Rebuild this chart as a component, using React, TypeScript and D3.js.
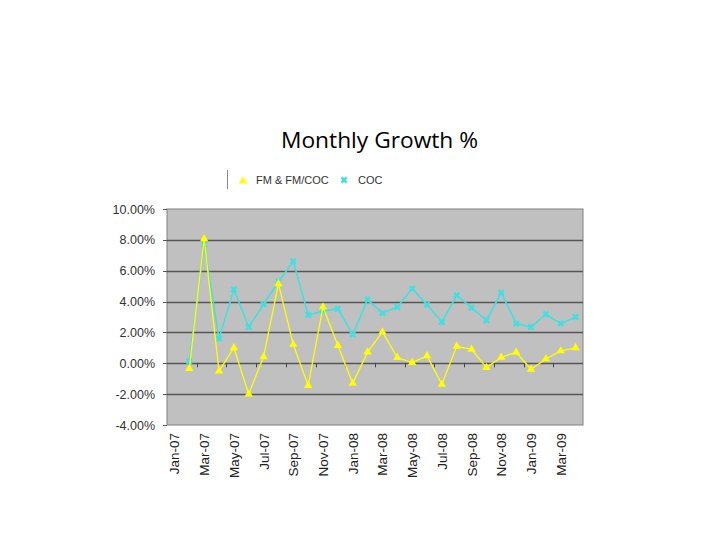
import React from "react";
import * as d3 from "d3";

const months = [
  "Jan-07","Feb-07","Mar-07","Apr-07","May-07","Jun-07","Jul-07","Aug-07","Sep-07","Oct-07","Nov-07","Dec-07",
  "Jan-08","Feb-08","Mar-08","Apr-08","May-08","Jun-08","Jul-08","Aug-08","Sep-08","Oct-08","Nov-08","Dec-08",
  "Jan-09","Feb-09","Mar-09","Apr-09",
];
const labelMonths = ["Jan-07","Mar-07","May-07","Jul-07","Sep-07","Nov-07","Jan-08","Mar-08","May-08","Jul-08","Sep-08","Nov-08","Jan-09","Mar-09"];
// values for Feb-07 .. Apr-09 (plotted one category right of their label start)
const fmSeries: number[] = [
  -0.35, 8.07, -0.5, 1.0, -2.0, 0.42, 5.15, 1.22, -1.44, 3.65, 1.15, -1.3, 0.72,
  2.03, 0.37, 0.05, 0.48, -1.36, 1.1, 0.9, -0.28, 0.39, 0.71, -0.39, 0.28, 0.8, 1.0,
];
const cocSeries: number[] = [
  0.13, 7.7, 1.6, 4.78, 2.35, 3.82, 5.3, 6.6, 3.15, 3.37, 3.54, 1.86, 4.13,
  3.26, 3.65, 4.84, 3.8, 2.68, 4.41, 3.6, 2.79, 4.58, 2.57, 2.35, 3.18, 2.57, 3.0,
];
const yTicks = [10, 8, 6, 4, 2, 0, -2, -4];

export default function App() {
  const W = 720, H = 540;
  const left = 167, right = 583, top = 209, bottom = 425;
  const x = d3.scaleBand<string>().domain(months).range([left, right]).padding(0);
  const y = d3.scaleLinear().domain([-4, 10]).range([bottom, top]);
  const cx = (m: string) => (x(m) as number) + x.bandwidth() / 2;

  const fmPts = fmSeries.map((v, i) => [cx(months[i + 1]), y(v)] as [number, number]);
  const cocPts = cocSeries.map((v, i) => [cx(months[i + 1]), y(v)] as [number, number]);
  const line = d3.line<[number, number]>();
  const tri = d3.symbol().type(d3.symbolTriangle).size(30)();
  const cross = d3.symbol().type(d3.symbolCross).size(30)();

  const font = "Arial, 'Liberation Sans', sans-serif";
  const boundaryTicks = months.filter((_, i) => i % 2 === 0 && i > 0).map((m) => x(m) as number);

  return (
    <svg width={W} height={H} style={{ position: "absolute", left: 0, top: 0, background: "#fff" }}>
      <text x={281} y={148} textLength={197} lengthAdjust="spacingAndGlyphs" fontFamily="'Open Sans', sans-serif" fontSize={22.5} fill="#000">
        Monthly Growth %
      </text>
      {/* legend */}
      <line x1={227.5} x2={227.5} y1={170} y2={189} stroke="#888" strokeWidth={1} />
      <path d={tri as string} transform="translate(243,181)" fill="#ffff00" />
      <text x={256} y={184} fontFamily={font} fontSize={11} fill="#333">FM &amp; FM/COC</text>
      <path d={cross as string} transform="translate(344,180) rotate(45)" fill="#40e0e0" />
      <text x={358} y={184} fontFamily={font} fontSize={11} fill="#333">COC</text>

      {/* plot area */}
      <rect x={left} y={top} width={right - left} height={bottom - top} fill="#c0c0c0" stroke="#808080" strokeWidth={1} />
      {yTicks.filter((t) => t !== 10 && t !== -4).map((t) => (
        <line key={t} x1={left} x2={right} y1={Math.round(y(t)) + 0.5} y2={Math.round(y(t)) + 0.5} stroke="#555" strokeWidth={1.3} />
      ))}
      {yTicks.map((t) => (
        <g key={"yt" + t}>
          <line x1={left - 4} x2={left} y1={Math.round(y(t)) + 0.5} y2={Math.round(y(t)) + 0.5} stroke="#555" />
          <text x={155} y={y(t) + 4.5} textAnchor="end" fontFamily={font} fontSize={12.5} fill="#333">
            {t.toFixed(2) + "%"}
          </text>
        </g>
      ))}
      {boundaryTicks.map((bx, i) => (
        <line key={"bt" + i} x1={Math.round(bx) + 0.5} x2={Math.round(bx) + 0.5} y1={y(0)} y2={y(0) + 4} stroke="#444" />
      ))}
      {labelMonths.map((m) => (
        <text
          key={m}
          transform={`translate(${cx(m) + 5},${433}) rotate(-90)`}
          textAnchor="end"
          fontFamily={font}
          fontSize={13.5}
          fill="#222"
        >
          {m}
        </text>
      ))}

      <path d={line(cocPts) as string} fill="none" stroke="#40e0e0" strokeWidth={1.6} />
      {cocPts.map((p, i) => (
        <path key={"c" + i} d={cross as string} transform={`translate(${p[0]},${p[1]}) rotate(45)`} fill="#40e0e0" />
      ))}
      <path d={line(fmPts) as string} fill="none" stroke="#ffff00" strokeWidth={1.3} />
      {fmPts.map((p, i) => (
        <path key={"f" + i} d={tri as string} transform={`translate(${p[0]},${p[1]})`} fill="#ffff00" />
      ))}
    </svg>
  );
}
